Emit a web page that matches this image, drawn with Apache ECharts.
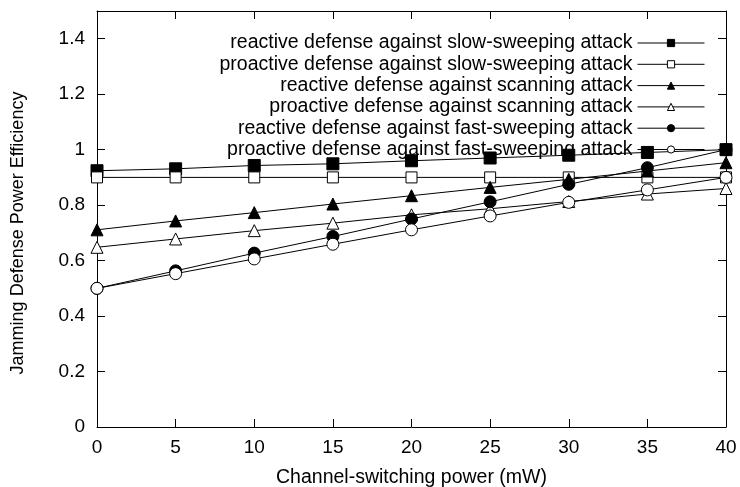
<!DOCTYPE html>
<html>
<head>
<meta charset="utf-8">
<script src="https://cdn.jsdelivr.net/npm/echarts@6/dist/echarts.min.js"></script>
<style>
  html, body { margin: 0; padding: 0; background: #fff; }
  #chart { width: 740px; height: 487px; }
</style>
</head>
<body>
<div id="chart"></div>
<script>
// channel-switching power (mW)
const powers = [0, 5, 10, 15, 20, 25, 30, 35, 40]

const seriesNames = [
  'reactive defense against slow-sweeping attack',
  'proactive defense against slow-sweeping attack',
  'reactive defense against scanning attack',
  'proactive defense against scanning attack',
  'reactive defense against fast-sweeping attack',
  'proactive defense against fast-sweeping attack'
]

const reactiveSlow = [0.924, 0.931, 0.943, 0.949, 0.96, 0.97, 0.98, 0.99, 1.0]
const proactiveSlow = [0.9, 0.9, 0.9, 0.9, 0.9, 0.9, 0.9, 0.9, 0.9]
const reactiveScan = [0.711, 0.743, 0.773, 0.804, 0.834, 0.864, 0.893, 0.923, 0.953]
const proactiveScan = [0.648, 0.678, 0.708, 0.735, 0.765, 0.787, 0.813, 0.84, 0.86]
const reactiveFast = [0.5, 0.563, 0.627, 0.687, 0.75, 0.812, 0.875, 0.935, 1.0]
const proactiveFast = [0.5, 0.553, 0.606, 0.659, 0.711, 0.761, 0.81, 0.855, 0.9]

const xTicks = [0, 5, 10, 15, 20, 25, 30, 35, 40]
const yTicks = [0, 0.2, 0.4, 0.6, 0.8, 1, 1.2, 1.4]

const font = 'Liberation Sans, Arial, Helvetica, sans-serif'

// marker styles, gnuplot-ish
const marks = [
  { symbol: 'rect', size: 12, fill: '#000' },
  { symbol: 'rect', size: 11, fill: '#fff' },
  { symbol: 'triangle', size: 12, fill: '#000' },
  { symbol: 'triangle', size: 12, fill: '#fff' },
  { symbol: 'circle', size: 12, fill: '#000' },
  { symbol: 'circle', size: 12, fill: '#fff' }
]
const allData = [reactiveSlow, proactiveSlow, reactiveScan, proactiveScan, reactiveFast, proactiveFast]

const chart = echarts.init(document.getElementById('chart'), null, { renderer: 'canvas' })

function ticks() {
  return { show: true, inside: true, length: 8, lineStyle: { color: '#000', width: 1 } }
}
function line() {
  return { show: true, onZero: false, lineStyle: { color: '#000', width: 1 } }
}

const option = {
  animation: false,
  backgroundColor: '#fff',
  textStyle: { fontFamily: font, color: '#000' },
  grid: { left: 97, right: 14, top: 11, bottom: 60, containLabel: false, outerBoundsMode: 'none' },
  legend: {
    orient: 'vertical',
    align: 'right',
    right: 35,
    top: 33,
    padding: 0,
    itemWidth: 67,
    itemHeight: 9,
    itemGap: 1.3,
    selectedMode: false,
    lineStyle: { width: 1 },
    itemStyle: { borderWidth: 1 },
    textStyle: { fontFamily: font, fontSize: 19.5, color: '#000' },
    data: seriesNames
  },
  xAxis: [{
    type: 'value',
    min: 0,
    max: 40,
    interval: 5,
    name: 'Channel-switching power (mW)',
    nameLocation: 'middle',
    nameGap: 41,
    nameTextStyle: { fontFamily: font, fontSize: 19.5, color: '#000' },
    axisLine: line(),
    axisTick: ticks(),
    splitLine: { show: false },
    axisLabel: {
      margin: 11, fontFamily: font, fontSize: 19, color: '#000',
      formatter: v => xTicks.includes(v) ? String(v) : ''
    }
  }, {
    type: 'value',
    position: 'top',
    min: 0,
    max: 40,
    interval: 5,
    axisLine: line(),
    axisTick: ticks(),
    axisLabel: { show: false },
    splitLine: { show: false }
  }],
  yAxis: [{
    type: 'value',
    min: 0,
    max: 1.5,
    interval: 0.2,
    name: 'Jamming Defense Power Efficiency',
    nameLocation: 'middle',
    nameGap: 70,
    nameTextStyle: { fontFamily: font, fontSize: 18, color: '#000', padding: [0, 28, 0, 0] },
    axisLine: line(),
    axisTick: ticks(),
    splitLine: { show: false },
    axisLabel: {
      margin: 12, fontFamily: font, fontSize: 19, color: '#000',
      showMaxLabel: false,
      formatter: v => {
        const t = yTicks.find(y => Math.abs(y - v) < 1e-6)
        return t === undefined ? '' : String(t)
      }
    }
  }, {
    type: 'value',
    position: 'right',
    min: 0,
    max: 1.5,
    interval: 0.2,
    axisLine: line(),
    axisTick: ticks(),
    axisLabel: { show: false },
    splitLine: { show: false }
  }],
  series: seriesNames.map((name, i) => ({
    name: name,
    type: 'line',
    xAxisIndex: 0,
    yAxisIndex: 0,
    data: powers.map((p, j) => [p, allData[i][j]]),
    symbol: marks[i].symbol,
    symbolSize: marks[i].size,
    showAllSymbol: true,
    lineStyle: { color: '#000', width: 1 },
    itemStyle: { color: marks[i].fill, borderColor: '#000', borderWidth: 1, opacity: 1 },
    emphasis: { disabled: true },
    z: 2 + i
  }))
}

chart.setOption(option)
</script>
</body>
</html>
